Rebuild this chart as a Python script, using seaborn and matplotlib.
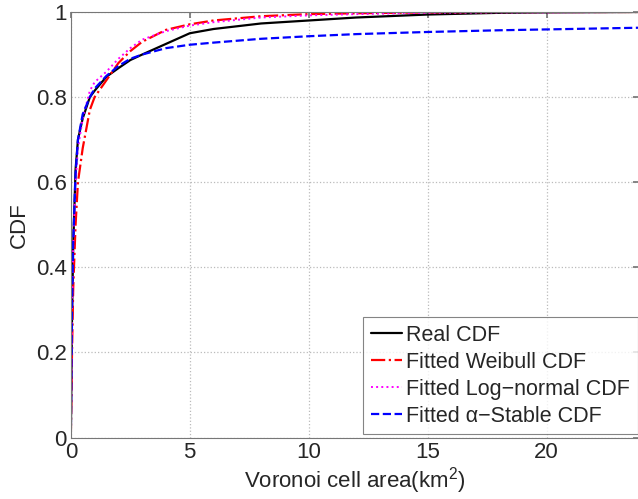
import matplotlib
matplotlib.use('Agg')
from matplotlib import pyplot as plt
import numpy as np
import seaborn as sns

area = [0, 0.05, 0.1, 0.2, 0.3, 0.5, 0.8, 1.0, 1.5, 2, 2.5, 3, 4, 5, 6, 8,
        10, 12, 15, 18, 20, 23.9]

real_cdf = [0, 0.28, 0.45, 0.63, 0.70, 0.75, 0.80, 0.815, 0.848, 0.868, 0.887,
            0.90, 0.925, 0.95, 0.96, 0.973, 0.98, 0.987, 0.994, 0.998, 0.999, 1.0]
weibull_cdf = [0, 0.20, 0.35, 0.50, 0.60, 0.68, 0.77, 0.80, 0.84, 0.88, 0.908,
               0.93, 0.958, 0.971, 0.98, 0.99, 0.995, 0.997, 0.999, 1.0, 1.0, 1.0]
lognormal_cdf = [0, 0.30, 0.45, 0.60, 0.68, 0.75, 0.815, 0.835, 0.86, 0.89, 0.915,
                 0.935, 0.955, 0.968, 0.976, 0.987, 0.992, 0.995, 0.998, 0.999, 0.999, 1.0]
stable_cdf = [0, 0.30, 0.46, 0.62, 0.70, 0.76, 0.80, 0.82, 0.85, 0.873, 0.89,
              0.90, 0.915, 0.923, 0.928, 0.937, 0.943, 0.948, 0.953, 0.957, 0.959, 0.963]

labels = ['Real CDF', 'Fitted Weibull CDF', 'Fitted Log\u2212normal CDF',
          'Fitted \u03b1\u2212Stable CDF']
xticks = [0, 5, 10, 15, 20]
yticks = [0, 0.2, 0.4, 0.6, 0.8, 1]
ytick_labels = ['0', '0.2', '0.4', '0.6', '0.8', '1']

sns.set_theme(style='white')
plt.rcParams['font.family'] = ['Liberation Sans', 'DejaVu Sans']
plt.rcParams['mathtext.default'] = 'regular'

fig = plt.figure(figsize=(6.38, 4.99), dpi=100)
ax = fig.add_axes([0.111, 0.123, 0.891, 0.853])

sns.lineplot(x=area, y=real_cdf, ax=ax, color='black', linewidth=1.6,
             label=labels[0])
sns.lineplot(x=area, y=weibull_cdf, ax=ax, color='red', linewidth=1.6,
             linestyle='-.', label=labels[1])
sns.lineplot(x=area, y=lognormal_cdf, ax=ax, color='magenta', linewidth=1.4,
             linestyle=':', label=labels[2])
sns.lineplot(x=area, y=stable_cdf, ax=ax, color='blue', linewidth=1.6,
             linestyle='--', label=labels[3])

ax.set_xlim(0, 23.9)
ax.set_ylim(0, 1)
ax.set_xticks(xticks)
ax.set_xticklabels([str(t) for t in xticks])
ax.set_yticks(yticks)
ax.set_yticklabels(ytick_labels)
ax.tick_params(labelsize=16, direction='in', length=4, color='#777777',
               top=True, right=True, pad=3)
ax.grid(True, linestyle=':', color='#bbbbbb', linewidth=0.9)
for s in ax.spines.values():
    s.set_color('#777777')
    s.set_linewidth(0.8)

ax.set_xlabel('Voronoi cell area(km$^2$)', fontsize=16, labelpad=2)
ax.set_ylabel('CDF', fontsize=16, labelpad=4)

leg = ax.legend(loc='lower right', bbox_to_anchor=(0.997, 0.008), fontsize=15.5,
                frameon=True, fancybox=False, edgecolor='#666666',
                handlelength=1.45, handletextpad=0.2, borderpad=0.35,
                labelspacing=0.28, borderaxespad=0.0)
leg.get_frame().set_linewidth(0.8)

fig.savefig('out.png', dpi=100)
